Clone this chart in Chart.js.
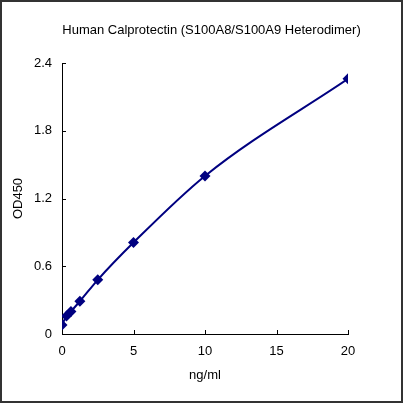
<!DOCTYPE html>
<html lang="en">
<head>
    <meta charset="UTF-8">
    <title>Human Calprotectin Standard Curve</title>
    <script src="https://cdn.jsdelivr.net/npm/chart.js"></script>
    <style>
        html, body { margin: 0; padding: 0; background: #fff; }
        #wrap { width: 403px; height: 403px; position: relative; }
    </style>
</head>
<body>
    <div id="wrap"><canvas id="curve"></canvas></div>

    <script>
        // standard concentrations (ng/ml) and measured OD450
        const concentrations = [0, 0.3125, 0.625, 1.25, 2.5, 5, 10, 20];
        const od450 = [0.08, 0.16, 0.20, 0.29, 0.48, 0.81, 1.40, 2.26];
        const xTicks = [0, 5, 10, 15, 20];
        const yTicks = [0, 0.6, 1.2, 1.8, 2.4];
        const titleText = "Human Calprotectin (S100A8/S100A9 Heterodimer)";

        const navy = "#000080";
        const fontFamily = "'Liberation Sans', Arial, sans-serif";
        const fontSize = 13;

        // ticks point into the plot, frame around the whole picture, title on top
        const decorations = {
            id: "decorations",
            afterDraw(chart) {
                const ctx = chart.ctx;
                const x = chart.scales.x, y = chart.scales.y;
                const area = chart.chartArea;
                ctx.save();
                ctx.strokeStyle = "#000";
                ctx.lineWidth = 1;
                ctx.beginPath();
                xTicks.forEach(v => {
                    const px = Math.round(x.getPixelForValue(v)) + 0.5;
                    ctx.moveTo(px, area.bottom);
                    ctx.lineTo(px, area.bottom - 4);
                });
                yTicks.forEach(v => {
                    const py = Math.round(y.getPixelForValue(v)) + 0.5;
                    ctx.moveTo(area.left, py);
                    ctx.lineTo(area.left + 4, py);
                });
                ctx.stroke();

                ctx.fillStyle = "#000";
                ctx.font = fontSize + "px " + fontFamily;
                ctx.textAlign = "center";
                ctx.textBaseline = "middle";
                ctx.fillText(titleText, 211.5, 30.5);

                ctx.strokeStyle = "#333";
                ctx.lineWidth = 2;
                ctx.strokeRect(1, 1, chart.width - 2, chart.height - 2);
                ctx.restore();
            }
        };

        new Chart(document.getElementById("curve"), {
            type: "line",
            data: {
                datasets: [{
                    data: concentrations.map((c, i) => ({ x: c, y: od450[i] })),
                    borderColor: navy,
                    backgroundColor: navy,
                    borderWidth: 2,
                    pointStyle: "rectRot",
                    pointRadius: 5.5,
                    pointBorderWidth: 0,
                    tension: 0.4,
                    cubicInterpolationMode: "monotone",
                    fill: false
                }]
            },
            options: {
                responsive: true,
                maintainAspectRatio: false,
                animation: false,
                layout: { padding: { top: 63, right: 55, bottom: 0, left: 0 } },
                plugins: {
                    legend: { display: false },
                    tooltip: { enabled: false }
                },
                scales: {
                    x: {
                        type: "linear",
                        min: 0, max: 20,
                        afterFit: s => { s.height = 69; },
                        afterBuildTicks: s => { s.ticks = xTicks.map(v => ({ value: v })); },
                        grid: { display: false, drawTicks: false },
                        border: { display: true, color: "#000", width: 1 },
                        ticks: { color: "#000", padding: 10, maxRotation: 0, font: { family: fontFamily, size: fontSize } },
                        title: { display: true, text: "ng/ml", color: "#000", padding: { top: 20, bottom: 20 }, font: { family: fontFamily, size: fontSize } }
                    },
                    y: {
                        min: 0, max: 2.4,
                        afterFit: s => { s.width = 62; },
                        afterBuildTicks: s => { s.ticks = yTicks.map(v => ({ value: v })); },
                        grid: { display: false, drawTicks: false },
                        border: { display: true, color: "#000", width: 1 },
                        ticks: { color: "#000", padding: 10, font: { family: fontFamily, size: fontSize } },
                        title: { display: true, text: "OD450", color: "#000", padding: { top: 11, bottom: 11 }, font: { family: fontFamily, size: fontSize } }
                    }
                }
            },
            plugins: [decorations]
        });
    </script>
</body>
</html>
